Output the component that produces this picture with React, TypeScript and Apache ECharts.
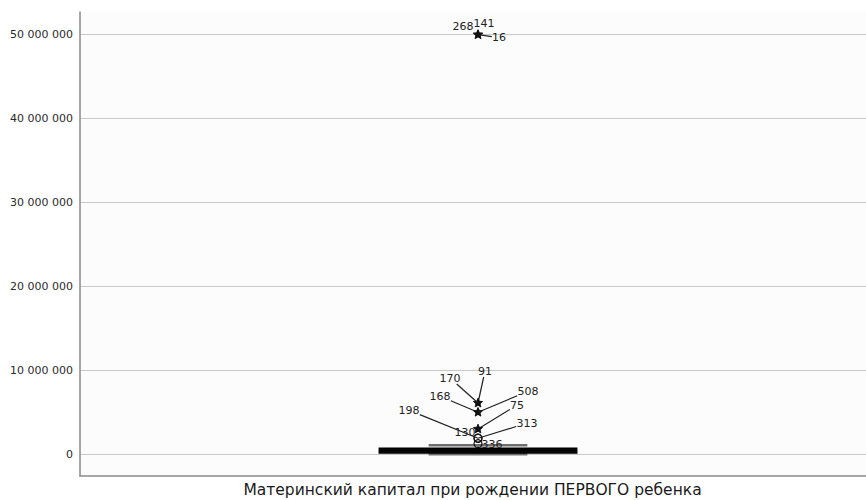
import React, { useEffect, useRef } from "react";
import * as echarts from "echarts";

// Variable shown on the category axis
const categories = ["Материнский капитал при рождении ПЕРВОГО ребенка"];

// Five-number summary: lower whisker, Q1, median, Q3, upper whisker
const boxStats = [0, 150000, 450000, 700000, 1050000];

// Individual cases outside the whiskers
const caseIds = ["16", "141", "268", "91", "170", "168", "508", "75", "130", "313", "198", "336"];
const caseValues = [
  50000000, 50000000, 50000000, 6100000, 6100000, 5000000, 5000000, 3000000, 3000000, 1900000,
  1900000, 1250000,
];
// "extreme" cases drawn as stars, "outlier" cases as circles
const caseKinds = [
  "extreme", "extreme", "extreme", "extreme", "extreme", "extreme", "extreme", "extreme",
  "extreme", "outlier", "outlier", "outlier",
];

const yTicks = [0, 10000000, 20000000, 30000000, 40000000, 50000000];

// Where each case number sits relative to its marker: [dx, dy, draw leader line]
const labelPlacement: Record<string, [number, number, boolean]> = {
  "16": [21, 3, true],
  "141": [6, -11, false],
  "268": [-15, -8, false],
  "91": [7, -32, true],
  "170": [-28, -25, true],
  "168": [-38, -16, true],
  "508": [50, -21, true],
  "75": [39, -24, true],
  "130": [-13, 3, false],
  "313": [49, -15, true],
  "198": [-69, -28, true],
  "336": [14, 1, false],
};

const FONT = "DejaVu Sans";

function fmt(v: number): string {
  return String(Math.round(v)).replace(/\B(?=(\d{3})+(?!\d))/g, " ");
}

function starPoints(cx: number, cy: number, r: number): number[][] {
  const pts: number[][] = [];
  for (let i = 0; i < 10; i++) {
    const rr = i % 2 === 0 ? r : r * 0.45;
    const a = -Math.PI / 2 + (i * Math.PI) / 5;
    pts.push([cx + rr * Math.cos(a), cy + rr * Math.sin(a)]);
  }
  return pts;
}

export default function App() {
  const ref = useRef<HTMLDivElement>(null);

  useEffect(() => {
    if (!ref.current) return;
    const chart = echarts.init(ref.current, null, { renderer: "svg" });

    const caseData = caseIds.map((id, i) => [0, caseValues[i], id, caseKinds[i]]);

    chart.setOption({
      animation: false,
      backgroundColor: "#ffffff",
      grid: {
        left: 80,
        right: 0,
        top: 12,
        bottom: 24,
        show: true,
        backgroundColor: "#fcfcfc",
        borderWidth: 0,
      },
      xAxis: {
        type: "category",
        data: categories,
        axisLine: { show: true, onZero: false, lineStyle: { color: "#8a8a8a", width: 1.5 } },
        axisTick: { show: false },
        axisLabel: {
          color: "#1a1a1a",
          fontFamily: FONT,
          fontSize: 15.5,
          margin: 6,
          padding: [0, 11, 0, 0],
        },
        splitLine: { show: false },
      },
      yAxis: {
        type: "value",
        min: -2600000,
        max: 52700000,
        axisLine: { show: true, lineStyle: { color: "#8a8a8a", width: 1.5 } },
        axisTick: { show: false, customValues: yTicks },
        axisLabel: {
          customValues: yTicks,
          color: "#2a2a2a",
          fontFamily: FONT,
          fontSize: 11,
          margin: 7,
          formatter: (v: number) => fmt(v),
        },
        splitLine: { show: true, lineStyle: { color: "#c8c8c8", width: 1.2 } },
      },
      series: [
        {
          type: "custom",
          data: [[0, ...boxStats]],
          renderItem: (params: any, api: any) => {
            const band = api.size([1, 0])[0];
            const halfBox = band * 0.124;
            const halfCap = halfBox / 2;
            const lo = api.coord([0, api.value(1)]);
            const q1 = api.coord([0, api.value(2)]);
            const med = api.coord([0, api.value(3)]);
            const q3 = api.coord([0, api.value(4)]);
            const hi = api.coord([0, api.value(5)]);
            const cx = lo[0];
            return {
              type: "group",
              children: [
                {
                  type: "line",
                  shape: { x1: cx, y1: q3[1], x2: cx, y2: hi[1] },
                  style: { stroke: "#000", lineWidth: 1 },
                },
                {
                  type: "line",
                  shape: { x1: cx, y1: q1[1], x2: cx, y2: lo[1] },
                  style: { stroke: "#000", lineWidth: 1 },
                },
                {
                  type: "line",
                  shape: { x1: cx - halfCap, y1: hi[1], x2: cx + halfCap, y2: hi[1] },
                  style: { stroke: "#6e6e6e", lineWidth: 2.5 },
                },
                {
                  type: "line",
                  shape: { x1: cx - halfCap, y1: lo[1], x2: cx + halfCap, y2: lo[1] },
                  style: { stroke: "#6e6e6e", lineWidth: 2.5 },
                },
                {
                  type: "rect",
                  shape: {
                    x: cx - halfBox,
                    y: q3[1],
                    width: halfBox * 2,
                    height: Math.max(q1[1] - q3[1], 1),
                  },
                  style: { fill: "#111", stroke: "#000", lineWidth: 1.5 },
                },
                {
                  type: "line",
                  shape: { x1: cx - halfBox, y1: med[1], x2: cx + halfBox, y2: med[1] },
                  style: { stroke: "#000", lineWidth: 2 },
                },
              ],
            };
          },
          z: 2,
        },
        {
          type: "custom",
          data: caseData,
          renderItem: (params: any, api: any) => {
            const id = String(caseIds[params.dataIndex]);
            const kind = caseKinds[params.dataIndex];
            const p = api.coord([0, api.value(1)]);
            const [dx, dy, leader] = labelPlacement[id] || [10, 0, false];
            const children: any[] = [];
            if (kind === "extreme") {
              children.push({
                type: "polygon",
                shape: { points: starPoints(p[0], p[1], 4.8) },
                style: { fill: "#111", stroke: "#111", lineWidth: 0.5 },
              });
            } else {
              children.push({
                type: "circle",
                shape: { cx: p[0], cy: p[1], r: 4 },
                style: { fill: "none", stroke: "#111", lineWidth: 1.2 },
              });
            }
            if (leader) {
              const hw = id.length * 3.6;
              const hh = 6;
              const t = Math.min(hw / Math.abs(dx || 1e-6), hh / Math.abs(dy || 1e-6));
              const ex = p[0] + dx - dx * t;
              const ey = p[1] + dy - dy * t;
              children.push({
                type: "line",
                shape: { x1: p[0], y1: p[1], x2: ex, y2: ey },
                style: { stroke: "#222", lineWidth: 1.2 },
              });
            }
            children.push({
              type: "text",
              style: {
                x: p[0] + dx,
                y: p[1] + dy,
                text: id,
                align: "center",
                verticalAlign: "middle",
                fill: "#222",
                font: `11px "${FONT}"`,
              },
            });
            return { type: "group", children };
          },
          z: 3,
        },
      ],
    });

    return () => chart.dispose();
  }, []);

  return (
    <div
      ref={ref}
      style={{ position: "fixed", left: 0, top: 0, width: 876, height: 500 }}
    />
  );
}
